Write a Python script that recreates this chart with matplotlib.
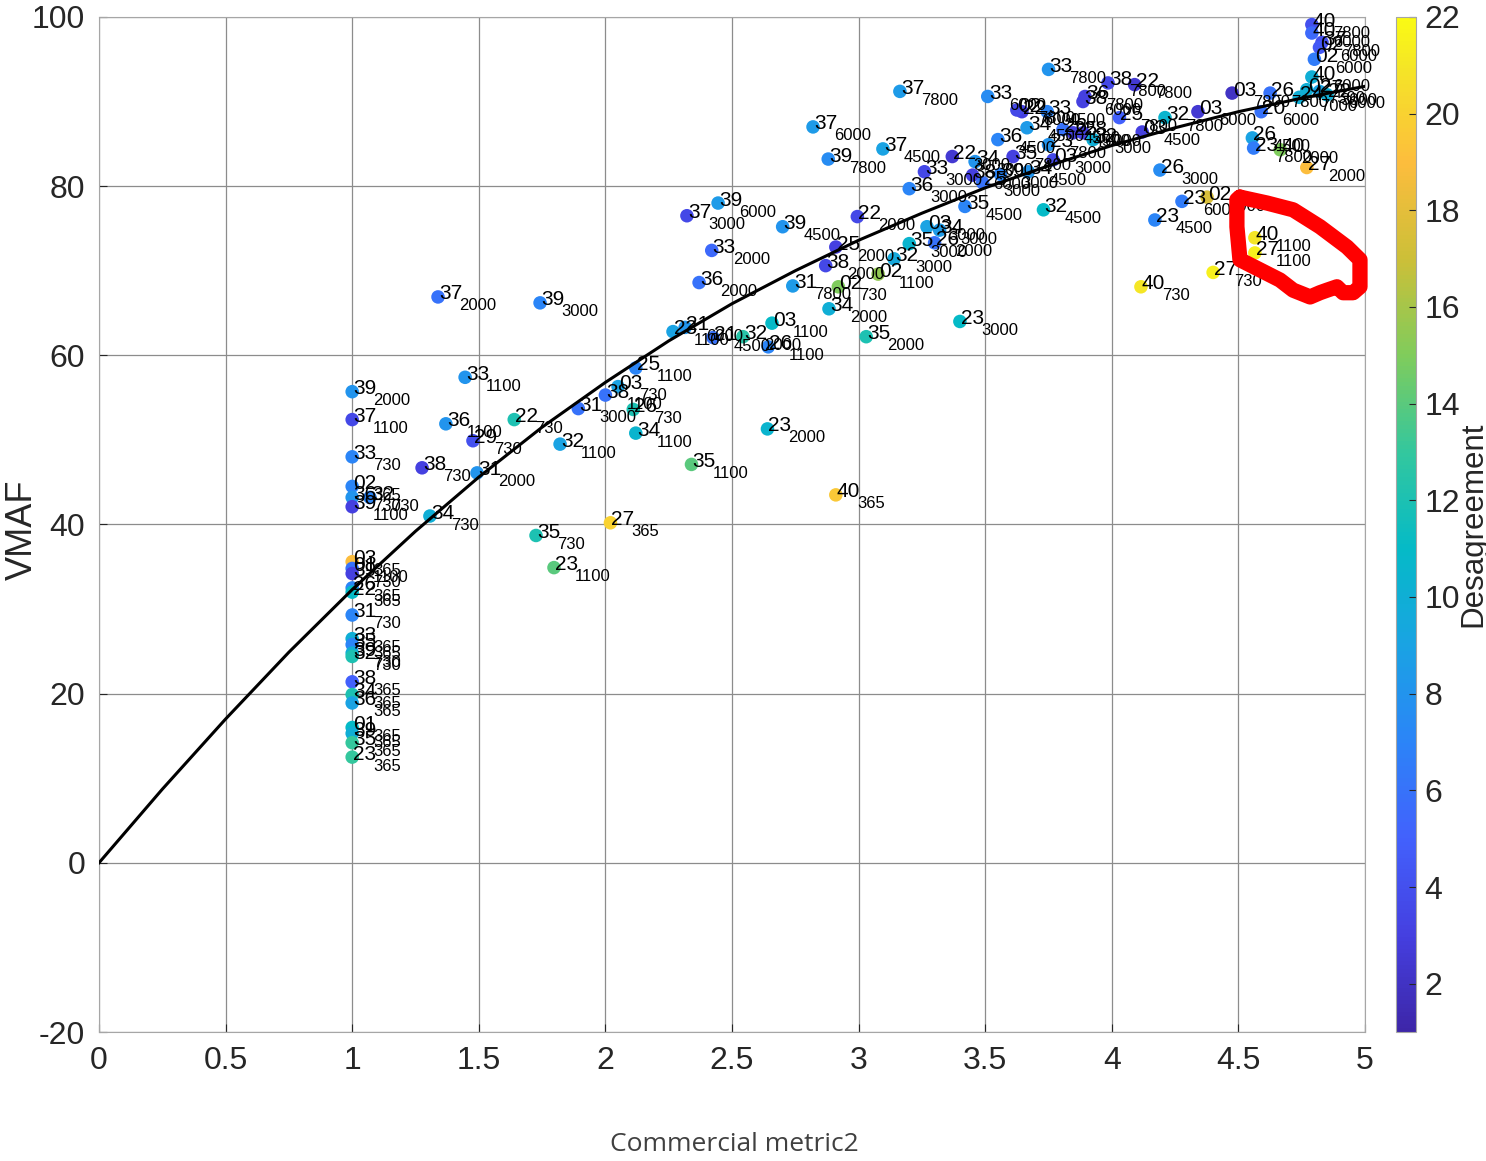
import numpy as np
import matplotlib.pyplot as plt
from matplotlib.colors import LinearSegmentedColormap, Normalize

# points: commercial metric2, VMAF, disagreement, sequence id, bitrate
metric2 = [1, 1, 1, 1, 1, 1, 1.07, 1, 1, 1, 1, 1, 1, 1, 1, 1, 1, 1, 1, 1, 1, 1, 1, 1,
           1.276, 1.307, 1.37, 1.477, 1.493, 1.446, 1.64, 1.726, 1.797, 1.821, 1.893, 2.0,
           2.05, 2.12, 2.11, 2.12, 2.34, 2.02, 2.64, 2.91, 1.742, 1.339, 2.267, 2.315,
           2.425, 2.543, 2.643, 2.658, 2.322, 2.445, 2.42, 2.37, 2.70, 2.74, 2.91, 2.87,
           2.92, 3.077, 2.883, 3.03, 2.995, 3.14, 3.20, 3.27, 3.32, 3.30, 3.40, 3.42,
           3.20, 3.163, 2.82, 2.88, 3.096, 3.51, 3.75, 3.37, 3.26, 3.46, 3.45, 3.49,
           3.56, 3.55, 3.61, 3.665, 3.645, 3.625, 3.745, 3.75, 3.67, 3.768, 3.847, 3.886,
           3.926, 3.807, 3.985, 4.09, 3.894, 3.886, 4.03, 4.12, 4.21, 4.34, 4.475, 4.625,
           4.59, 4.555, 4.56, 4.665, 4.77, 4.19, 4.376, 4.277, 4.17, 4.565, 4.565, 4.40,
           4.115, 3.73, 4.79, 4.79, 4.83, 4.82, 4.80, 4.79, 4.77, 4.82, 4.85, 4.74]
vmaf = [55.7, 52.4, 48.0, 44.5, 43.2, 42.1, 43.2, 35.6, 34.8, 34.2, 32.5, 32.0, 29.3,
        26.5, 25.8, 24.8, 24.4, 21.4, 19.9, 18.9, 16.0, 15.3, 14.2, 12.5,
        46.7, 41.0, 51.9, 49.9, 46.1, 57.4, 52.4, 38.7, 34.9, 49.5, 53.7, 55.3,
        56.3, 58.5, 53.6, 50.8, 47.1, 40.2, 51.3, 43.5, 66.2, 66.9, 62.8, 63.3,
        62.1, 62.2, 61.0, 63.8, 76.5, 78.0, 72.4, 68.6, 75.2, 68.2, 72.8, 70.6,
        68.1, 69.6, 65.5, 62.2, 76.4, 71.4, 73.2, 75.2, 74.8, 73.3, 64.0, 77.6,
        79.7, 91.2, 87.0, 83.2, 84.4, 90.6, 93.8, 83.5, 81.7, 82.9, 81.3, 80.4,
        81.4, 85.5, 83.5, 86.9, 88.8, 89.0, 88.8, 84.9, 81.7, 83.1, 86.3, 86.3,
        85.5, 86.7, 92.2, 92.0, 90.6, 90.0, 88.1, 86.4, 88.1, 88.8, 91.0, 91.0,
        88.8, 85.7, 84.5, 84.3, 82.2, 81.9, 78.7, 78.2, 76.0, 73.9, 72.1, 69.8,
        68.1, 77.2, 99.1, 98.1, 97.0, 96.4, 95.0, 92.9, 91.4, 91.2, 90.8, 90.5]
desag = [8, 3.5, 7, 7, 8, 3, 7, 19, 6, 3, 7, 11, 7, 10, 7, 10, 12, 5, 12, 9, 11, 10, 13, 13,
         3, 10, 8, 4, 8, 8, 12, 12, 14, 9, 6, 6,
         9, 7, 12, 10.5, 14, 20, 10.5, 19.5, 7, 6, 9, 8,
         6, 12.5, 7, 11, 3.5, 8.5, 5.5, 6, 8, 8.5, 3, 3.5,
         15, 15.5, 10, 12, 3.5, 9.5, 10.5, 9, 8.5, 6, 11, 7,
         7, 8.5, 8.5, 7.5, 9, 7.5, 8, 2.5, 3.5, 8, 3, 6,
         7, 7, 3, 8.5, 3, 3.5, 7, 8, 8, 3.5, 3, 3,
         10, 6, 3.5, 2.5, 3, 3, 5, 3, 10.5, 2.5, 2, 6,
         6, 9, 6.5, 15, 19, 7.5, 17.5, 6.5, 7, 21, 21.5, 21.5,
         21, 11, 4, 5.5, 4, 4.5, 6.5, 10, 10, 9, 10, 10]
seq_ids = ['39', '37', '33', '02', '36', '39', '32', '03', '01', '39', '26', '22', '31',
           '33', '35', '39', '32', '38', '34', '36', '01', '39', '35', '23',
           '38', '34', '36', '29', '31', '33', '22', '35', '23', '32', '31', '38',
           '03', '25', '26', '34', '35', '27', '23', '40', '39', '37', '23', '21',
           '21', '32', '26', '03', '37', '39', '33', '36', '39', '31', '25', '38',
           '02', '02', '34', '35', '22', '32', '35', '03', '34', '26', '23', '35',
           '36', '37', '37', '39', '37', '33', '33', '22', '33', '34', '38', '25',
           '39', '36', '35', '34', '22', '02', '33', '23', '34', '03', '25', '28',
           '32', '26', '38', '22', '36', '38', '25', '03', '32', '03', '03', '26',
           '20', '26', '23', '40', '27', '26', '02', '23', '23', '40', '27', '27',
           '40', '32', '40', '40', '37', '02', '02', '40', '02', '27', '22', '24']
bitrates = ['2000', '1100', '730', '365', '730', '1100', '730', '365', '1100', '730',
            '365', '365', '730', '365', '365', '730', '730', '365', '365', '365', '365',
            '365', '365', '365',
            '730', '730', '1100', '730', '2000', '1100', '730', '730', '1100', '1100',
            '3000', '1100', '730', '1100', '730', '1100', '1100', '365', '2000', '365',
            '3000', '2000', '1100', '6000', '4500', '2000', '1100', '1100', '3000', '6000',
            '2000', '2000', '4500', '7800', '2000', '2000', '730', '1100', '2000', '2000',
            '2000', '3000', '3000', '3000', '3000', '2000', '3000', '4500', '3000', '7800',
            '6000', '7800', '4500', '6000', '7800', '3000', '3000', '3000', '6000', '3000',
            '3000', '4500', '7800', '4500', '6000', '7800', '4500', '7800', '4500', '3000',
            '4500', '6000', '3000', '4500', '7800', '7800', '7800', '6000', '7800', '4500',
            '7800', '6000', '7800', '7800', '6000', '4500', '7800', '2000', '2000', '3000',
            '2000', '6000', '4500', '1100', '1100', '730', '730', '4500', '7800', '6000',
            '7800', '6000', '6000', '6000', '7500', '3000', '6000', '7000']

# fitted curve
fit_x = [0, 0.25, 0.5, 0.75, 1.0, 1.25, 1.5, 1.75, 2.0, 2.25, 2.5, 2.75, 3.0, 3.25,
         3.5, 3.75, 4.0, 4.25, 4.5, 4.75, 5.0]
fit_y = [0, 8.7, 17.0, 24.9, 32.3, 39.2, 45.6, 51.5, 56.8, 61.7, 66.1, 70.0, 73.6,
         76.8, 79.8, 82.4, 84.8, 86.9, 88.8, 90.4, 91.8]

# red hand-drawn loop
loop_x = [4.506, 4.613, 4.716, 4.822, 4.929, 4.980, 4.980, 4.953, 4.913, 4.889, 4.850,
          4.822, 4.783, 4.716, 4.664, 4.585, 4.506, 4.494, 4.494, 4.506]
loop_y = [78.7, 78.0, 77.2, 75.2, 72.8, 71.3, 68.1, 67.4, 67.4, 68.1, 67.7,
          67.4, 66.9, 67.7, 68.9, 70.1, 71.3, 75.2, 78.4, 78.7]

# parula-like colormap
parula = LinearSegmentedColormap.from_list('parula', [
    (0.000, (0.24, 0.15, 0.66)),
    (0.095, (0.27, 0.25, 0.88)),
    (0.190, (0.26, 0.38, 0.99)),
    (0.286, (0.17, 0.52, 0.97)),
    (0.381, (0.10, 0.64, 0.89)),
    (0.476, (0.02, 0.73, 0.78)),
    (0.571, (0.20, 0.78, 0.62)),
    (0.667, (0.50, 0.80, 0.36)),
    (0.762, (0.80, 0.75, 0.22)),
    (0.857, (0.99, 0.74, 0.24)),
    (0.952, (0.96, 0.90, 0.15)),
    (1.000, (0.98, 0.98, 0.08))])

plt.rcParams['font.family'] = ['Liberation Sans', 'DejaVu Sans']
plt.rcParams['axes.unicode_minus'] = False

fig = plt.figure(figsize=(14.86, 11.61), dpi=100)
ax = fig.add_axes([0.0666, 0.1111, 0.852, 0.8743])

norm = Normalize(vmin=1, vmax=22)
sc = ax.scatter(metric2, vmaf, c=desag, cmap=parula, norm=norm, s=95,
                linewidths=0, zorder=3)
ax.plot(fit_x, fit_y, color='black', lw=2.2, zorder=4)

for x, y, sid, br in zip(metric2, vmaf, seq_ids, bitrates):
    ax.annotate(sid, (x, y), xytext=(1, 3), textcoords='offset pixels',
                fontsize=15, va='center', ha='left', zorder=5)
    ax.annotate(br, (x, y), xytext=(21, -9), textcoords='offset pixels',
                fontsize=12, va='center', ha='left', zorder=5)

ax.plot(loop_x, loop_y, color='red', lw=11, solid_capstyle='round',
        solid_joinstyle='round', zorder=6, clip_on=False)

ax.set_xlim(0, 5)
ax.set_ylim(-20, 100)
ax.set_xticks(np.arange(0, 5.01, 0.5))
ax.set_xticklabels(['0', '0.5', '1', '1.5', '2', '2.5', '3', '3.5', '4', '4.5', '5'])
ax.set_yticks(np.arange(-20, 101, 20))
ax.grid(True, color='#8c8c8c', lw=0.9)
ax.set_axisbelow(True)
ax.tick_params(direction='in', length=6, labelsize=23, colors='#262626', pad=10)
for sp in ax.spines.values():
    sp.set_color('#a6a6a6')

fig.text(0.0148, 0.5435, 'VMAF', rotation=90, fontsize=26, color='#262626',
         ha='center', va='center')
fig.text(0.494, 0.0138, 'Commercial metric2', fontsize=19, color='#404040',
         family='Open Sans', ha='center', va='center')

cax = fig.add_axes([0.9394, 0.1111, 0.0135, 0.8743])
cb = fig.colorbar(sc, cax=cax, ticks=np.arange(2, 23, 2))
cb.outline.set_edgecolor('#a6a6a6')
cb.ax.tick_params(direction='in', length=5, labelsize=23, colors='#262626', pad=6)
cb.ax.text(3.85, 0.5, 'Desagreement', rotation=90, fontsize=22.5, color='#262626',
           transform=cb.ax.transAxes, ha='center', va='center')

fig.savefig('out.png', dpi=100)
